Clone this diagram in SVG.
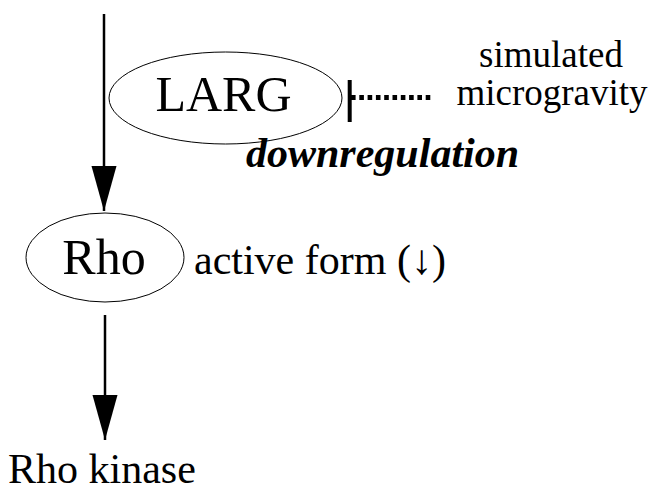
<svg xmlns="http://www.w3.org/2000/svg" width="652" height="493" viewBox="0 0 652 493">
<style>
.t{font-family:"Liberation Serif","Times New Roman",serif;fill:#000}
.node{fill:#fff;stroke:#000;stroke-width:1}
.edge{stroke:#000;stroke-width:2.5;fill:none}
</style>
<defs>
<marker id="ah" markerUnits="userSpaceOnUse" markerWidth="46" markerHeight="26" refX="45" refY="12.5" orient="auto" viewBox="0 0 46 26">
<path d="M0,0 L45,12.5 L0,25 Z" fill="#000"/>
</marker>
</defs>
<rect width="652" height="493" fill="#fff"/>
<g id="connectors">
<line class="edge" x1="104" y1="14" x2="104" y2="211" marker-end="url(#ah)"/>
<line class="edge" x1="105" y1="315" x2="105" y2="440" marker-end="url(#ah)"/>
<line x1="349.7" y1="80" x2="349.7" y2="122" stroke="#000" stroke-width="4"/>
<line x1="351" y1="97.5" x2="432" y2="97.5" stroke="#000" stroke-width="5" stroke-dasharray="4.6 3.7"/>
</g>
<g id="LARG">
<ellipse class="node" cx="225.5" cy="98" rx="116.5" ry="46"/>
<text class="t" font-family="Liberation Serif, serif" font-size="50" x="223.5" y="111" text-anchor="middle">LARG</text>
</g>
<g id="Rho">
<ellipse class="node" cx="105" cy="257.5" rx="79" ry="44.5"/>
<text class="t" font-family="Liberation Serif, serif" font-size="50" x="104" y="274" text-anchor="middle">Rho</text>
</g>
<g id="microgravity">
<text class="t" font-family="Liberation Serif, serif" font-size="37" x="551" y="67" text-anchor="middle">simulated</text>
<text class="t" font-family="Liberation Serif, serif" font-size="37" x="552" y="105" text-anchor="middle">microgravity</text>
</g>
<g id="Rho_kinase">
<text class="t" font-family="Liberation Serif, serif" font-size="42" x="8" y="483">Rho kinase</text>
</g>
<text class="t" font-family="Liberation Serif, serif" font-size="42" font-weight="bold" font-style="italic" x="246" y="167">downregulation</text>
<text class="t" font-family="Liberation Serif, serif" font-size="42" x="194" y="274">active form (↓)</text>
</svg>
